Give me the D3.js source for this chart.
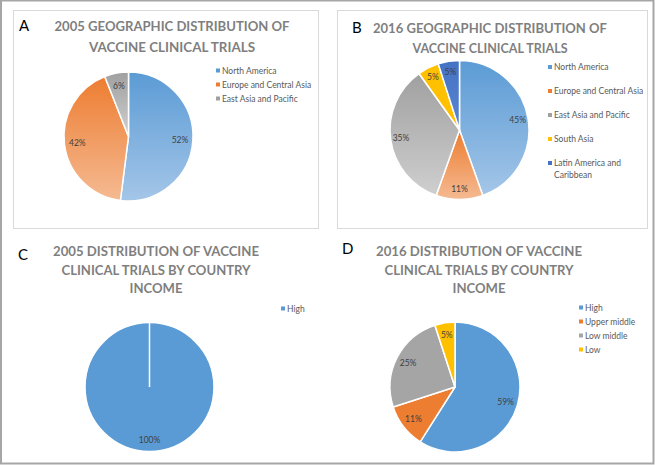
<!DOCTYPE html>
<html><head><meta charset="utf-8">
<script src="https://cdn.jsdelivr.net/npm/d3@7"></script>
<style>
html,body{margin:0;padding:0;background:#fff;}
svg{display:block;}
</style></head>
<body>
<script>
// ---- DATA ----
const regionsA = ["North America", "Europe and Central Asia", "East Asia and Pacific"];
const valuesA = [52, 42, 6];
const regionsB = ["North America", "Europe and Central Asia", "East Asia and Pacific", "South Asia", "Latin America and Caribbean"];
const valuesB = [45, 11, 35, 5, 5];
const incomeC = ["High"];
const valuesC = [100];
const incomeD = ["High", "Upper middle", "Low middle", "Low"];
const valuesD = [59, 11, 25, 5];
const titleA = ["2005 GEOGRAPHIC DISTRIBUTION OF", "VACCINE CLINICAL TRIALS"];
const titleB = ["2016 GEOGRAPHIC DISTRIBUTION OF", "VACCINE CLINICAL TRIALS"];
const titleC = ["2005 DISTRIBUTION OF VACCINE", "CLINICAL TRIALS BY COUNTRY", "INCOME"];
const titleD = ["2016 DISTRIBUTION OF VACCINE", "CLINICAL TRIALS BY COUNTRY", "INCOME"];

// ---- STYLE ----
const W = 655, H = 465;
const colorsGeo = {
  "North America": ["#5b9bd5", "#a4c6e8"],
  "Europe and Central Asia": ["#ed7d31", "#f5ba92"],
  "East Asia and Pacific": ["#a0a0a0", "#cfcfcf"],
  "South Asia": ["#ffc000", "#ffc000"],
  "Latin America and Caribbean": ["#4472c4", "#5b86d0"]
};
const colorsInc = {"High": "#5b9bd5", "Upper middle": "#ed7d31", "Low middle": "#a5a5a5", "Low": "#ffc000"};

const svg = d3.select("body").append("svg").attr("width", W).attr("height", H);
const defs = svg.append("defs");

// outer border
svg.append("rect").attr("x", 1).attr("y", 0.5).attr("width", W - 2.5).attr("height", H - 2)
  .attr("fill", "none").attr("stroke", "#a6a6a6").attr("stroke-width", 2);

// panel boxes A, B
[[13, 10, 305, 218], [337, 10, 310, 218]].forEach(b => {
  svg.append("rect").attr("x", b[0] + 0.5).attr("y", b[1] + 0.5).attr("width", b[2]).attr("height", b[3])
    .attr("fill", "none").attr("stroke", "#d9d9d9").attr("stroke-width", 1);
});

Object.entries(colorsGeo).forEach(([k, c], i) => {
  const g = defs.append("linearGradient").attr("id", "g" + i)
    .attr("x1", 0).attr("y1", 0).attr("x2", 0).attr("y2", 1);
  g.append("stop").attr("offset", "0%").attr("stop-color", c[0]);
  g.append("stop").attr("offset", "100%").attr("stop-color", c[1]);
});
const geoKeys = Object.keys(colorsGeo);

function drawPanel(cfg) {
  const g = svg.append("g");
  // letter
  g.append("text").attr("x", cfg.letter[0]).attr("y", cfg.letter[1]).text(cfg.letter[2])
    .attr("font-family", "Lato, 'Open Sans', sans-serif").attr("font-size", 15).attr("fill", "#000");
  // title
  cfg.title.forEach((t, i) => {
    g.append("text").attr("x", cfg.titleX).attr("y", cfg.titleY + i * cfg.titleDy)
      .attr("text-anchor", "middle").attr("font-family", "Lato, 'Open Sans', sans-serif")
      .attr("font-weight", "bold").attr("font-size", cfg.titleSize).attr("fill", "#7f7f7f")
      .attr("textLength", cfg.titleLen[i]).attr("lengthAdjust", "spacingAndGlyphs")
      .text(t);
  });
  // pie
  const data = cfg.cats.map((c, i) => ({cat: c, v: cfg.vals[i]}));
  const pie = d3.pie().value(d => d.v).sort(null);
  const arcs = pie(data);
  const arc = d3.arc().innerRadius(0).outerRadius(cfg.r);
  const labelArc = d3.arc().innerRadius(cfg.r * cfg.lf).outerRadius(cfg.r * cfg.lf);
  const pg = g.append("g").attr("transform", `translate(${cfg.cx},${cfg.cy})`);
  pg.selectAll("path.slice").data(arcs).join("path").attr("class", "slice")
    .attr("d", arc).attr("fill", d => cfg.fill(d.data.cat))
    .attr("stroke", "#fff").attr("stroke-width", 1.5).attr("stroke-linejoin", "round");
  if (arcs.length === 1) {
    const p = d3.pointRadial(arcs[0].startAngle, cfg.r);
    pg.append("line").attr("x1", 0).attr("y1", 0).attr("x2", p[0]).attr("y2", p[1])
      .attr("stroke", "#fff").attr("stroke-width", 1.5);
  }
  pg.selectAll("text.lbl").data(arcs).join("text").attr("class", "lbl")
    .attr("transform", d => {
      let c = labelArc.centroid(d);
      if (arcs.length === 1) c = d3.pointRadial(Math.PI, cfg.r * cfg.lf);
      return `translate(${c[0]},${c[1]})`;
    })
    .attr("text-anchor", "middle").attr("dominant-baseline", "central")
    .attr("font-family", "Lato, 'Open Sans', sans-serif").attr("font-size", 8.5).attr("fill", "#404040")
    .text(d => d.data.v + "%");
  // legend
  const lg = g.append("g");
  cfg.cats.forEach((c, i) => {
    const y = cfg.legY[i];
    lg.append("rect").attr("x", cfg.legX).attr("y", y - 2).attr("width", 4).attr("height", 4)
      .attr("fill", cfg.legFill(c));
    const parts = c.split(" ");
    const lines = cfg.wrap && c.length > 24 ? [parts.slice(0, 3).join(" "), parts.slice(3).join(" ")] : [c];
    lines.forEach((w, j) => {
      lg.append("text").attr("x", cfg.legX + 6).attr("y", y + j * 11.5).attr("dominant-baseline", "central")
        .attr("font-family", "Lato, 'Open Sans', sans-serif").attr("font-size", 8.5).attr("fill", "#595959")
        .text(w);
    });
  });
}

drawPanel({
  letter: [19, 31, "A"], title: titleA, titleX: 172, titleY: 31, titleDy: 20.5, titleSize: 14, titleLen: [235, 166],
  cats: regionsA, vals: valuesA, cx: 128.5, cy: 136.5, r: 64.5, lf: 0.8,
  fill: c => `url(#g${geoKeys.indexOf(c)})`, legFill: c => colorsGeo[c][0],
  legX: 216, legY: [70.5, 84.5, 98.5]
});
drawPanel({
  letter: [352, 33, "B"], title: titleB, titleX: 490, titleY: 33, titleDy: 20, titleSize: 14, titleLen: [234, 155],
  cats: regionsB, vals: valuesB, cx: 459.5, cy: 130, r: 69.5, lf: 0.85, wrap: true,
  fill: c => `url(#g${geoKeys.indexOf(c)})`, legFill: c => colorsGeo[c][0],
  legX: 548, legY: [67, 91, 115, 139, 163]
});
drawPanel({
  letter: [18, 260, "C"], title: titleC, titleX: 156, titleY: 256, titleDy: 18.7, titleSize: 13.5, titleLen: [206, 189, 53],
  cats: incomeC, vals: valuesC, cx: 149.5, cy: 387, r: 64.5, lf: 0.82,
  fill: c => colorsInc[c], legFill: c => colorsInc[c],
  legX: 281, legY: [308.5]
});
drawPanel({
  letter: [342, 254, "D"], title: titleD, titleX: 479, titleY: 256, titleDy: 18.7, titleSize: 13.5, titleLen: [206, 189, 53],
  cats: incomeD, vals: valuesD, cx: 455, cy: 387, r: 65, lf: 0.81,
  fill: c => colorsInc[c], legFill: c => colorsInc[c],
  legX: 579, legY: [307.5, 321.5, 335.5, 349.5]
});
</script>
</body></html>
